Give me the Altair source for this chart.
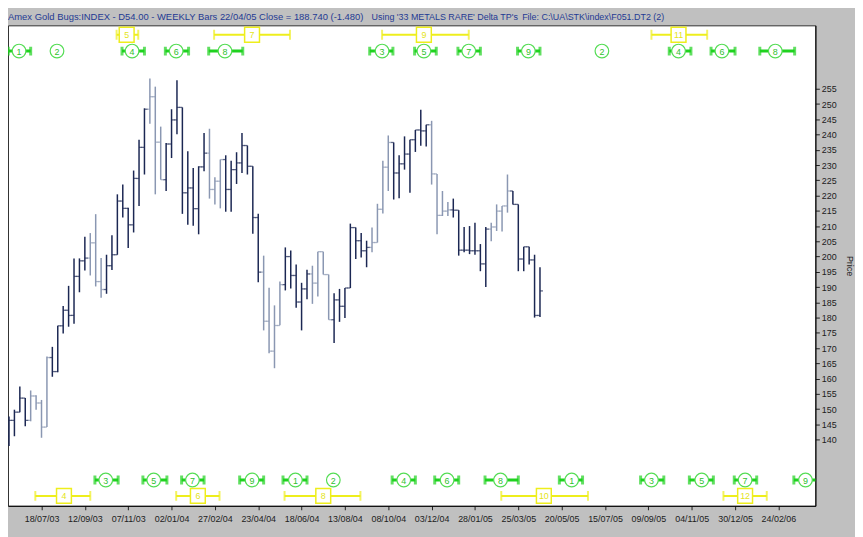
import altair as alt
import pandas as pd

# ---------------- data ----------------
LAST_BAR = "2005-04-22"   # weekly bars (Fridays) ending 22/04/05

opens = [141.1, 146.3, 149.0, 153.6, 146.3, 154.3, 152.0, 144.1, 166.9, 162.3,
         177.3, 182.4, 180.7, 193.5, 198.6, 199.5, 204.5, 191.8, 189.2, 197.0,
         200.6, 218.2, 215.8, 210.4, 225.6, 235.8, 248.3, 252.4, 237.5, 225.2,
         236.9, 244.8, 248.9, 220.9, 222.5, 215.7, 229.4, 233.9, 222.0, 224.7,
         231.8, 222.0, 228.5, 230.7, 236.4, 229.6, 212.8, 194.9, 178.8, 169.0,
         177.4, 190.8, 200.0, 193.8, 185.1, 189.4, 194.3, 191.3, 201.6, 194.1,
         179.3, 185.8, 183.7, 189.7, 209.5, 205.2, 201.9, 203.0, 204.6, 215.5,
         229.3, 237.4, 227.4, 230.4, 233.6, 238.3, 241.5, 241.2, 243.2, 227.1,
         213.5, 214.9, 215.3, 215.2, 202.1, 202.1, 201.9, 201.9, 197.6, 209.0,
         209.7, 214.9, 216.6, 221.5, 217.1, 199.2, 203.2, 198.9, 180.7]
highs = [147.6, 149.8, 157.4, 153.6, 156.1, 154.5, 153.0, 167.2, 170.4, 177.3,
         183.8, 190.4, 199.4, 199.4, 206.5, 207.7, 213.9, 199.5, 200.6, 207.0,
         220.4, 223.6, 216.0, 228.2, 238.3, 248.6, 258.4, 255.7, 242.6, 237.2,
         248.3, 257.8, 248.9, 234.5, 229.0, 229.6, 240.5, 241.9, 226.0, 231.8,
         233.2, 231.4, 234.2, 240.5, 236.4, 229.6, 214.0, 200.3, 189.8, 184.0,
         191.8, 203.0, 202.0, 197.4, 191.4, 195.7, 197.0, 201.6, 201.6, 194.1,
         188.0, 189.4, 189.7, 210.8, 209.5, 207.7, 205.2, 209.5, 217.3, 231.4,
         239.7, 237.4, 233.2, 239.4, 238.3, 241.5, 248.1, 243.2, 244.5, 227.1,
         221.5, 217.9, 219.0, 215.2, 209.7, 210.0, 211.1, 204.1, 209.7, 211.1,
         217.1, 216.6, 226.9, 221.5, 217.1, 203.2, 203.2, 200.6, 196.5]
lows = [137.9, 141.1, 149.0, 144.4, 146.0, 149.8, 140.6, 144.1, 160.6, 162.1,
        174.8, 177.0, 178.0, 188.3, 195.4, 193.8, 190.2, 186.5, 187.8, 195.6,
        200.6, 212.8, 202.8, 207.9, 216.6, 226.9, 243.5, 220.4, 225.2, 221.5,
        232.3, 240.1, 214.0, 210.4, 210.1, 207.3, 228.0, 219.0, 217.1, 215.8,
        214.7, 214.7, 223.8, 227.4, 226.9, 207.5, 191.6, 175.8, 168.3, 163.4,
        177.5, 188.9, 189.5, 183.2, 175.8, 186.0, 184.5, 186.9, 194.1, 179.3,
        171.7, 178.6, 179.9, 189.7, 199.2, 199.7, 196.5, 201.4, 204.6, 214.1,
        221.5, 218.7, 219.1, 228.5, 220.9, 234.3, 236.3, 236.1, 223.6, 207.3,
        213.3, 213.3, 212.8, 200.3, 201.4, 200.8, 200.6, 195.2, 190.0, 205.0,
        208.4, 208.2, 214.4, 217.1, 195.2, 195.2, 197.4, 180.0, 180.2]
closes = [146.3, 149.0, 153.6, 146.3, 154.3, 152.0, 144.1, 166.9, 162.3, 177.3,
          182.4, 180.7, 193.5, 198.6, 199.5, 204.5, 191.8, 189.2, 197.0, 200.6,
          218.2, 215.8, 210.4, 225.6, 235.8, 248.3, 252.4, 237.5, 225.2, 236.9,
          244.8, 248.9, 220.9, 222.5, 215.7, 229.4, 233.9, 222.0, 224.7, 231.8,
          222.0, 228.5, 230.7, 236.4, 229.6, 212.8, 194.9, 178.8, 169.0, 177.4,
          190.8, 200.0, 193.8, 185.1, 189.4, 194.3, 191.3, 201.6, 194.1, 179.3,
          185.8, 183.7, 189.7, 209.5, 205.2, 201.9, 203.0, 204.6, 215.5, 229.3,
          237.4, 227.4, 230.4, 233.6, 238.3, 241.5, 241.2, 243.2, 227.1, 213.5,
          214.9, 215.3, 215.2, 202.1, 202.1, 201.9, 201.9, 197.6, 209.0, 209.7,
          214.9, 216.6, 221.5, 217.1, 199.2, 203.2, 198.9, 180.7, 188.74]
grey_bar = [0, 0, 0, 0, 1, 1, 1, 1, 0, 0,
            0, 0, 0, 0, 0, 1, 1, 1, 0, 0,
            0, 0, 0, 0, 0, 0, 1, 1, 1, 0,
            0, 0, 0, 0, 0, 0, 0, 1, 1, 1,
            0, 0, 0, 0, 0, 0, 0, 1, 1, 1,
            1, 0, 0, 0, 0, 0, 1, 1, 1, 1,
            0, 0, 0, 0, 0, 0, 0, 1, 1, 1,
            1, 0, 0, 0, 0, 0, 0, 0, 1, 1,
            1, 1, 0, 0, 0, 0, 0, 0, 0, 1,
            1, 1, 1, 0, 0, 0, 0, 0, 0]

# x-axis tick labels (every 8 weeks)
x_tick_dates = ["2003-07-18", "2003-09-12", "2003-11-07", "2004-01-02", "2004-02-27",
                "2004-04-23", "2004-06-18", "2004-08-13", "2004-10-08", "2004-12-03",
                "2005-01-28", "2005-03-25", "2005-05-20", "2005-07-15", "2005-09-09",
                "2005-11-04", "2005-12-30", "2006-02-24"]
y_tick_values = [140, 145, 150, 155, 160, 165, 170, 175, 180, 185, 190, 195,
                 200, 205, 210, 215, 220, 225, 230, 235, 240, 245, 250, 255]

# Delta turning points: green (circles) top row
gt_labels = ["1", "2", "4", "6", "8", "3", "5", "7", "9", "2", "4", "6", "8"]
gt_center = ["2003-06-19", "2003-08-07", "2003-11-12", "2004-01-08", "2004-03-11",
             "2004-09-30", "2004-11-23", "2005-01-20", "2005-04-07", "2005-07-11",
             "2005-10-18", "2005-12-13", "2006-02-20"]
gt_start = ["2003-06-05", None, "2003-10-30", "2003-12-25", "2004-02-19",
            "2004-09-14", "2004-11-11", "2005-01-06", "2005-03-24", None,
            "2005-10-06", "2005-11-29", "2006-01-31"]
gt_end = ["2003-07-04", None, "2003-11-28", "2004-01-24", "2004-04-03",
          "2004-10-14", "2004-12-09", "2005-02-04", "2005-04-22", None,
          "2005-11-03", "2005-12-30", "2006-03-17"]

# green bottom row
gb_labels = ["3", "5", "7", "9", "1", "2", "4", "6", "8", "1", "3", "5", "7", "9"]
gb_center = ["2003-10-09", "2003-12-10", "2004-01-29", "2004-04-15", "2004-06-10",
             "2004-07-29", "2004-10-28", "2004-12-23", "2005-03-02", "2005-06-02",
             "2005-09-13", "2005-11-17", "2006-01-12", "2006-03-31"]
gb_start = ["2003-09-25", "2003-11-26", "2004-01-15", "2004-03-30", "2004-05-25",
            None, "2004-10-13", "2004-12-07", "2005-02-10", "2005-05-17",
            "2005-08-30", "2005-11-01", "2005-12-29", "2006-03-16"]
gb_end = ["2003-10-25", "2003-12-27", "2004-02-13", "2004-04-30", "2004-06-25",
          None, "2004-11-12", "2005-01-07", "2005-03-25", "2005-06-16",
          "2005-09-29", "2005-12-02", "2006-01-27", "2006-04-15"]

# yellow (boxes) top row
yt_labels = ["5", "7", "9", "11"]
yt_center = ["2003-11-05", "2004-04-15", "2004-11-23", "2005-10-18"]
yt_start = ["2003-10-23", "2004-02-26", "2004-09-30", "2005-09-13"]
yt_end = ["2003-11-20", "2004-06-03", "2005-01-20", "2005-11-24"]

# yellow bottom row
yb_labels = ["4", "6", "8", "10", "12"]
yb_center = ["2003-08-16", "2004-02-05", "2004-07-16", "2005-04-27", "2006-01-12"]
yb_start = ["2003-07-10", "2004-01-08", "2004-05-27", "2005-03-03", "2005-12-15"]
yb_end = ["2003-09-19", "2004-03-04", "2004-09-02", "2005-06-23", "2006-02-09"]

title_main = "Amex Gold Bugs:INDEX - D54.00  - WEEKLY Bars  22/04/05 Close = 188.740 (-1.480)"
title_using = "Using '33 METALS RARE' Delta TP's"
title_file = "File: C:\\UA\\STK\\index\\F051.DT2 (2)"

# ---------------- build ----------------
dates = pd.date_range(end=LAST_BAR, periods=len(closes), freq="7D").strftime("%Y-%m-%d")
bars = pd.DataFrame({"date": dates, "open": opens, "high": highs, "low": lows,
                     "close": closes,
                     "tone": ["grey" if g else "dark" for g in grey_bar]})


def dt(s):
    y, m, d = s.split("-")
    return alt.DateTime(year=int(y), month=int(m), date=int(d), utc=True)


XS = alt.Scale(type="utc",
               domain=[alt.DateTime(year=2003, month=6, date=4, hours=17, utc=True),
                       alt.DateTime(year=2006, month=4, date=12, hours=19, utc=True)])
YS = alt.Scale(domain=[118.3, 275.8], nice=False, zero=False)

DARK = "#1b2753"
GREY = "#8a97b2"
FONT = "Liberation Sans"

X_AXIS = alt.Axis(values=[dt(s) for s in x_tick_dates], format="%d/%m/%y",
                  labelFontSize=9, labelFont=FONT, labelColor="#202020",
                  tickColor="#202020", domainColor="#000000", tickSize=4,
                  labelPadding=5, grid=False, title=None, labelOverlap=False,
                  labelFlush=False)
Y_AXIS = alt.Axis(orient="right", values=y_tick_values, labelFontSize=9,
                  labelFont=FONT, labelColor="#202020", tickColor="#202020",
                  domainColor="#000000", tickSize=4, labelPadding=2, grid=False,
                  title="Price", titleFont=FONT, titleFontSize=9,
                  titleFontWeight="normal", titleColor="#202020", titlePadding=8,
                  labelOverlap=False, labelFlush=False)


def X(field):
    return alt.X(field, scale=XS, axis=X_AXIS)


def Y(field):
    return alt.Y(field, scale=YS, axis=Y_AXIS)


color = alt.Color("tone:N", scale=alt.Scale(domain=["dark", "grey"], range=[DARK, GREY]),
                  legend=None)

base = alt.Chart(bars)
hl = base.mark_rule(strokeWidth=1.5).encode(
    x=X("date:T"), y=Y("low:Q"), y2="high:Q", color=color)
op = base.mark_tick(orient="horizontal", size=3, thickness=1.3, xOffset=-1.5).encode(
    x=X("date:T"), y=Y("open:Q"), color=color)
cl = base.mark_tick(orient="horizontal", size=3, thickness=1.3, xOffset=1.5).encode(
    x=X("date:T"), y=Y("close:Q"), color=color)

layers = [hl, op, cl]


def cycle_row(labels, centers, starts, ends, ypix, kind):
    df = pd.DataFrame({"label": labels, "center": centers, "start": starts, "end": ends})
    rng = df.dropna(subset=["start"])
    caps = pd.DataFrame({"d": list(rng["start"]) + list(rng["end"])})
    if kind == "green":
        col, lw, cw, ch = "#1fd21f", 3, 3, 9
    else:
        col, lw, cw, ch = "#eeee1c", 2, 2, 10
    out = []
    out.append(alt.Chart(rng).mark_rule(color=col, strokeWidth=lw, clip=True).encode(
        x=X("start:T"), x2="end:T", y=alt.value(ypix)))
    out.append(alt.Chart(caps).mark_tick(color=col, thickness=cw, size=ch,
                                         orient="vertical", clip=True).encode(
        x=X("d:T"), y=alt.value(ypix)))
    if kind == "green":
        sym = alt.Chart(df).mark_point(shape="circle", filled=True, fill="white",
                                       stroke="#55dd55", strokeWidth=1.2, size=190,
                                       opacity=1, clip=True)
        tcol = "#2fbf2f"
    else:
        sym = alt.Chart(df).mark_point(shape="square", filled=True, fill="white",
                                       stroke="#eeee1c", strokeWidth=1.5, size=225,
                                       opacity=1, clip=True)
        tcol = "#e4e41a"
    out.append(sym.encode(x=X("center:T"), y=alt.value(ypix)))
    out.append(alt.Chart(df).mark_text(fontSize=9, font=FONT, color=tcol,
                                       baseline="middle", align="center", clip=True).encode(
        x=X("center:T"), y=alt.value(ypix + 0.5), text="label:N"))
    return out


layers += cycle_row(yt_labels, yt_center, yt_start, yt_end, 9.5, "yellow")
layers += cycle_row(gt_labels, gt_center, gt_start, gt_end, 26, "green")
layers += cycle_row(gb_labels, gb_center, gb_start, gb_end, 459, "green")
layers += cycle_row(yb_labels, yb_center, yb_start, yb_end, 475, "yellow")


def header(txt, xpix, size):
    return alt.Chart(pd.DataFrame({"t": [txt]})).mark_text(
        align="left", baseline="middle", fontSize=size, font=FONT, color="#1f3a93"
    ).encode(text="t:N", x=alt.value(xpix), y=alt.value(-8))


layers += [header(title_main, 0, 9.5), header(title_using, 367, 9),
           header(title_file, 519, 9)]

chart = alt.layer(*layers).properties(
    width=815, height=485,
    padding={"left": 0, "top": 15, "right": 40, "bottom": 29},
    autosize=alt.AutoSizeParams(type="none"),
    background="#c0c0c0",
).configure_view(fill="white", stroke="#303030", strokeWidth=1)

chart.save("out.html", embed_options={"renderer": "svg", "actions": False})
